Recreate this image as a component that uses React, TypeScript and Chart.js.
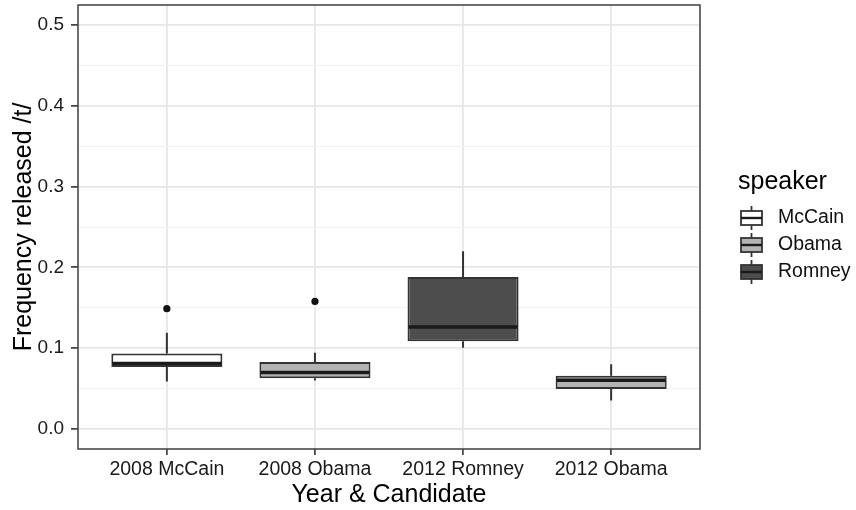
import { useEffect, useRef } from 'react';
import { Chart, registerables } from 'chart.js';

Chart.register(...registerables);

// Box-plot summaries per group (frequency of released /t/)
const categories = ['2008 McCain', '2008 Obama', '2012 Romney', '2012 Obama'];
const groupSpeaker = ['McCain', 'Obama', 'Romney', 'Obama'];
const whiskerLow = [0.0586, 0.0598, 0.1004, 0.0352];
const lowerQuartile = [0.0766, 0.0627, 0.1086, 0.0492];
const medians = [0.0811, 0.0697, 0.1262, 0.0602];
const upperQuartile = [0.0934, 0.0828, 0.1881, 0.0656];
const whiskerHigh = [0.1189, 0.0943, 0.2201, 0.0799];

// Outlying observations
const outlierGroup = [1, 2];
const outlierValue = [0.1488, 0.1578];

// Y axis ticks (labelled majors, unlabelled minors)
const yMajorTicks = [0, 0.1, 0.2, 0.3, 0.4, 0.5];
const yMinorTicks = [0.05, 0.15, 0.25, 0.35, 0.45];

// Legend
const legendSpeakers = ['McCain', 'Obama', 'Romney'];
const speakerFill: Record<string, string> = {
  McCain: '#ffffff',
  Obama: '#b3b3b3',
  Romney: '#4d4d4d',
};

const FONT = "'Liberation Sans', Arial, Helvetica, sans-serif";
const OUTLINE = '#333333';

const isMajor = (v: number) => yMajorTicks.some((t) => Math.abs(t - v) < 1e-9);

const boxPartsPlugin = {
  id: 'boxParts',
  beforeDatasetsDraw(chart: any) {
    const { ctx, scales } = chart;
    const x = scales.x;
    const y = scales.y;
    ctx.save();
    ctx.strokeStyle = OUTLINE;
    ctx.lineWidth = 2;
    ctx.lineCap = 'butt';
    categories.forEach((_, i) => {
      const px = x.getPixelForValue(i + 1);
      ctx.beginPath();
      ctx.moveTo(px, y.getPixelForValue(whiskerHigh[i]));
      ctx.lineTo(px, y.getPixelForValue(upperQuartile[i]));
      ctx.moveTo(px, y.getPixelForValue(lowerQuartile[i]));
      ctx.lineTo(px, y.getPixelForValue(whiskerLow[i]));
      ctx.stroke();
    });
    ctx.restore();
  },
  afterDatasetsDraw(chart: any) {
    const { ctx, scales } = chart;
    const x = scales.x;
    const y = scales.y;
    ctx.save();
    ctx.strokeStyle = '#1a1a1a';
    ctx.lineWidth = 3.4;
    categories.forEach((_, i) => {
      const left = x.getPixelForValue(i + 1 - 0.375);
      const right = x.getPixelForValue(i + 1 + 0.375);
      const py = y.getPixelForValue(medians[i]);
      ctx.beginPath();
      ctx.moveTo(left + 1, py);
      ctx.lineTo(right - 1, py);
      ctx.stroke();
    });
    ctx.restore();
  },
  afterDraw(chart: any) {
    const { ctx, chartArea } = chart;
    ctx.save();
    // panel border
    ctx.strokeStyle = '#4a4a4a';
    ctx.lineWidth = 1.6;
    ctx.strokeRect(chartArea.left, chartArea.top, chartArea.right - chartArea.left, chartArea.bottom - chartArea.top);

    // legend
    ctx.fillStyle = '#000';
    ctx.font = `25px ${FONT}`;
    ctx.textAlign = 'left';
    ctx.textBaseline = 'alphabetic';
    ctx.fillText('speaker', 738, 189);

    const keyLeft = 741;
    const keyRight = 762;
    const keyMid = (keyLeft + keyRight) / 2;
    legendSpeakers.forEach((name, i) => {
      const cy = 218 + i * 27;
      ctx.strokeStyle = OUTLINE;
      ctx.lineWidth = 1.8;
      ctx.beginPath();
      ctx.moveTo(keyMid, cy - 12);
      ctx.lineTo(keyMid, cy + 12);
      ctx.stroke();
      ctx.fillStyle = speakerFill[name];
      ctx.fillRect(keyLeft, cy - 7, keyRight - keyLeft, 14);
      ctx.strokeRect(keyLeft, cy - 7, keyRight - keyLeft, 14);
      ctx.lineWidth = 2.4;
      ctx.strokeStyle = '#1a1a1a';
      ctx.beginPath();
      ctx.moveTo(keyLeft, cy);
      ctx.lineTo(keyRight, cy);
      ctx.stroke();
      ctx.fillStyle = '#111';
      ctx.font = `19.5px ${FONT}`;
      ctx.textBaseline = 'middle';
      ctx.fillText(name, 778, cy);
    });
    ctx.restore();
  },
};

export default function App() {
  const canvasRef = useRef<HTMLCanvasElement | null>(null);

  useEffect(() => {
    document.body.style.margin = '0';
    const canvas = canvasRef.current;
    if (!canvas) return;

    const chart = new Chart(canvas, {
      type: 'bar',
      data: {
        datasets: [
          {
            type: 'bar',
            label: 'box',
            data: categories.map((_, i) => ({ x: i + 1, y: [lowerQuartile[i], upperQuartile[i]] })) as any,
            backgroundColor: groupSpeaker.map((s) => speakerFill[s]),
            borderColor: OUTLINE,
            borderWidth: 2,
            borderSkipped: false,
            barPercentage: 0.75,
            categoryPercentage: 1,
          },
          {
            type: 'scatter',
            label: 'outliers',
            data: outlierGroup.map((g, i) => ({ x: g, y: outlierValue[i] })),
            backgroundColor: '#111',
            borderWidth: 0,
            pointRadius: 3.6,
          },
        ],
      },
      options: {
        animation: false,
        responsive: true,
        maintainAspectRatio: false,
        layout: { padding: { left: 0, right: 156, top: 5, bottom: 0 } },
        plugins: {
          legend: { display: false },
          tooltip: { enabled: false },
        },
        scales: {
          x: {
            type: 'linear',
            min: 0.4,
            max: 4.6,
            offset: false,
            afterFit: (s: any) => {
              s.height = 61;
              s.paddingLeft = 0;
              s.paddingRight = 0;
            },
            afterBuildTicks: (s: any) => {
              s.ticks = categories.map((_, i) => ({ value: i + 1 }));
            },
            border: { display: false },
            grid: {
              offset: false,
              color: '#e6e6e6',
              lineWidth: 1.8,
              tickColor: OUTLINE,
              tickLength: 6,
              tickWidth: 1.6,
            } as any,
            ticks: {
              autoSkip: false,
              maxRotation: 0,
              padding: 3,
              color: '#1a1a1a',
              font: { family: FONT, size: 19.5 },
              callback: (v: any) => categories[Math.round(Number(v)) - 1] ?? '',
            },
            title: {
              display: true,
              text: 'Year & Candidate',
              color: '#000',
              font: { family: FONT, size: 25 },
              padding: { top: 0, bottom: 0 },
            },
          },
          y: {
            type: 'linear',
            min: -0.025,
            max: 0.525,
            afterFit: (s: any) => {
              s.width = 78;
              s.paddingTop = 0;
              s.paddingBottom = 0;
            },
            afterBuildTicks: (s: any) => {
              s.ticks = [...yMajorTicks, ...yMinorTicks]
                .sort((a, b) => a - b)
                .map((v) => ({ value: v }));
            },
            border: { display: false },
            grid: {
              color: (c: any) => (isMajor(c.tick?.value) ? '#e6e6e6' : '#f2f2f2'),
              lineWidth: (c: any) => (isMajor(c.tick?.value) ? 1.8 : 1),
              tickColor: (c: any) => (isMajor(c.tick?.value) ? OUTLINE : 'rgba(0,0,0,0)'),
              tickLength: 7,
              tickWidth: 1.6,
            } as any,
            ticks: {
              autoSkip: false,
              padding: 7,
              color: '#1a1a1a',
              font: { family: FONT, size: 19 },
              callback: (v: any) => (isMajor(Number(v)) ? Number(v).toFixed(1) : ''),
            },
            title: {
              display: true,
              text: 'Frequency released /t/',
              color: '#000',
              font: { family: FONT, size: 25 },
              padding: { top: 9, bottom: 0 },
            },
          },
        },
      },
      plugins: [boxPartsPlugin],
    });

    return () => chart.destroy();
  }, []);

  return (
    <div style={{ position: 'relative', width: 856, height: 510 }}>
      <canvas ref={canvasRef} />
    </div>
  );
}
